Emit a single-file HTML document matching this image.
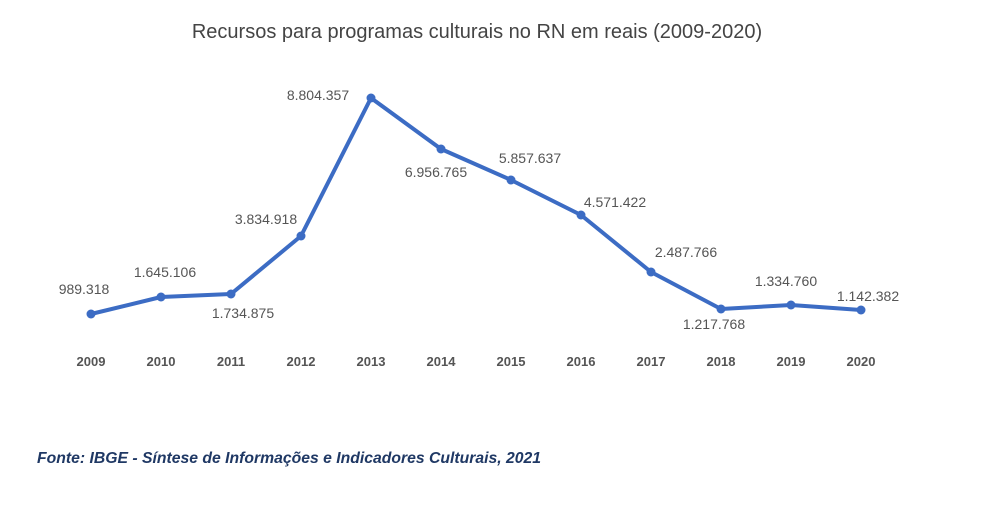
<!DOCTYPE html>
<html><head><meta charset="utf-8"><style>
html,body{margin:0;padding:0;background:#fff;}
svg{display:block;}
</style></head><body>
<svg width="1008" height="522" xmlns="http://www.w3.org/2000/svg" font-family="Liberation Sans, sans-serif">
<rect width="1008" height="522" fill="#fff"/>
<text x="477" y="38" text-anchor="middle" font-size="20" fill="#444">Recursos para programas culturais no RN em reais (2009-2020)</text>
<polyline fill="none" stroke="#3c6cc4" stroke-width="4" stroke-linejoin="round" points="91,314 161,297 231,294 301,236 371,98 441,149 511,180 581,215 651,272 721,309 791,305 861,310"/>
<g fill="#3c6cc4">
<circle cx="91" cy="314" r="4.5"/><circle cx="161" cy="297" r="4.5"/><circle cx="231" cy="294" r="4.5"/><circle cx="301" cy="236" r="4.5"/><circle cx="371" cy="98" r="4.5"/><circle cx="441" cy="149" r="4.5"/><circle cx="511" cy="180" r="4.5"/><circle cx="581" cy="215" r="4.5"/><circle cx="651" cy="272" r="4.5"/><circle cx="721" cy="309" r="4.5"/><circle cx="791" cy="305" r="4.5"/><circle cx="861" cy="310" r="4.5"/>
</g>
<g font-size="14" fill="#555" text-anchor="middle">
<text x="84" y="294">989.318</text>
<text x="165" y="277">1.645.106</text>
<text x="243" y="318">1.734.875</text>
<text x="266" y="224">3.834.918</text>
<text x="318" y="100">8.804.357</text>
<text x="436" y="177">6.956.765</text>
<text x="530" y="163">5.857.637</text>
<text x="615" y="207">4.571.422</text>
<text x="686" y="257">2.487.766</text>
<text x="714" y="329">1.217.768</text>
<text x="786" y="286">1.334.760</text>
<text x="868" y="301">1.142.382</text>
</g>
<g font-size="13" font-weight="bold" fill="#555" text-anchor="middle">
<text x="91" y="366">2009</text><text x="161" y="366">2010</text><text x="231" y="366">2011</text><text x="301" y="366">2012</text><text x="371" y="366">2013</text><text x="441" y="366">2014</text><text x="511" y="366">2015</text><text x="581" y="366">2016</text><text x="651" y="366">2017</text><text x="721" y="366">2018</text><text x="791" y="366">2019</text><text x="861" y="366">2020</text>
</g>
<text x="37" y="463" font-size="15.5" font-weight="bold" font-style="italic" fill="#1f3864" textLength="504" lengthAdjust="spacingAndGlyphs">Fonte: IBGE - Síntese de Informações e Indicadores Culturais, 2021</text>
</svg>
</body></html>
